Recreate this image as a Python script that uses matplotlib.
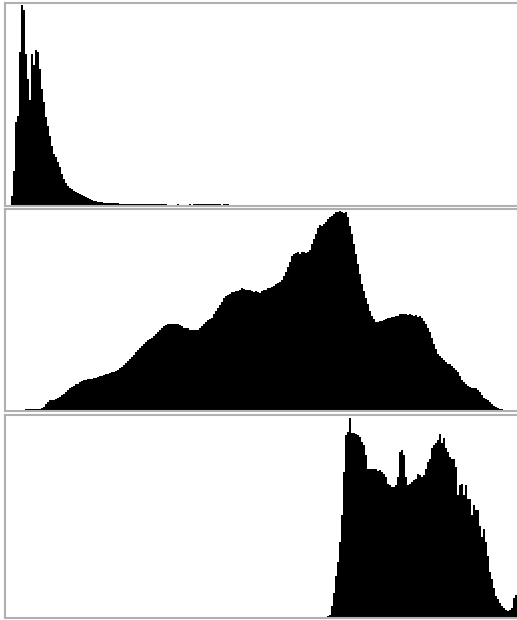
import numpy as np
import matplotlib
matplotlib.use("Agg")
import matplotlib.pyplot as plt

# 256-bin histograms, heights (arbitrary units)
n_bins = 256

# top panel: bins 3..111
hist1_start = 3
hist1 = [30, 105, 250, 270, 460, 600, 585, 455, 380, 315, 455, 420, 465, 460,
         410, 350, 310, 265, 240, 210, 180, 155, 145, 130, 115, 95, 80, 70, 60,
         55, 50, 45, 42, 38, 35, 32, 30, 28, 25, 22, 18, 15, 15, 12, 12, 12,
         10, 10, 10, 10, 10, 10, 10, 10,
         7, 7, 7, 7, 7, 7, 7, 7, 7, 7, 7, 7, 7, 7, 7, 7, 7, 7, 7, 7, 7, 7, 7, 7,
         0, 0, 0, 0, 0, 6, 0, 0, 0, 0, 0, 6, 0, 6, 6, 6, 6, 6, 6, 6, 6, 6, 6, 6,
         6, 6, 6, 0, 6, 6, 6]

# middle panel: bins 10..248
hist2_start = 10
hist2 = [7, 7, 7, 7, 7, 7, 7, 7, 8, 12, 20, 26, 32, 34, 34, 35, 38, 42, 48,
         52, 58, 64, 68, 72, 76, 80, 82, 86, 90, 94, 94, 95, 95, 96, 98, 100,
         103, 104, 106, 108, 110, 112, 114, 116, 118, 120, 124, 128, 132, 138,
         144, 150, 156, 162, 168, 176, 184, 190, 196, 200, 206, 212, 216, 220,
         226, 232, 238, 244, 250, 254, 258, 262, 260, 262, 262, 260, 262, 258,
         254, 250, 248, 248, 244, 242, 244, 244, 244, 248, 254, 260, 266, 272,
         276, 278, 290, 300, 308, 318, 328, 338, 344, 348, 352, 356, 358, 360,
         360, 362, 368, 366, 364, 362, 362, 360, 358, 360, 356, 354, 360, 362,
         364, 368, 370, 372, 376, 380, 384, 388, 394, 404, 416, 432, 448, 466,
         472, 474, 476, 472, 478, 476, 474, 478, 484, 500, 516, 532, 548, 558,
         556, 560, 566, 576, 582, 586, 592, 596, 598, 600, 598, 594, 596, 582,
         556, 530, 500, 472, 440, 410, 380, 360, 340, 320, 300, 285, 275, 268,
         268, 270, 270, 272, 276, 280, 280, 282, 282, 284, 286, 290, 290, 292,
         290, 288, 290, 288, 286, 288, 282, 284, 280, 270, 262, 250, 236, 220,
         200, 186, 172, 164, 160, 152, 146, 142, 140, 136, 130, 124, 116, 104,
         94, 88, 82, 76, 72, 70, 70, 68, 64, 56, 48, 40, 36, 32, 28, 22, 16, 12,
         8, 7, 7]

# bottom panel: bins 161..255
hist3_start = 161
hist3 = [6, 10, 36, 76, 126, 166, 226, 306, 436, 546, 556, 598, 551, 551, 548,
         546, 541, 526, 516, 486, 446, 446, 444, 446, 444, 440, 441, 436, 430,
         421, 401, 396, 391, 391, 396, 421, 496, 501, 486, 421, 396, 401, 406,
         411, 416, 431, 426, 421, 426, 446, 466, 476, 506, 516, 521, 531, 548,
         521, 536, 506, 496, 481, 476, 476, 451, 366, 396, 401, 366, 396, 356,
         356, 306, 336, 321, 321, 276, 241, 266, 226, 186, 136, 116, 91, 66, 56,
         46, 36, 31, 24, 22, 24, 31, 61, 70]


def full(start, vals):
    h = np.zeros(n_bins)
    h[start:start + len(vals)] = vals
    return h


W, H = 517, 620
fig = plt.figure(figsize=(W / 100, H / 100), dpi=100)

# panel boxes in pixels: (top, bottom)
boxes = [(3, 206), (209, 411), (415, 618)]
data = [full(hist1_start, hist1), full(hist2_start, hist2), full(hist3_start, hist3)]

for (top, bot), h in zip(boxes, data):
    ax = fig.add_axes([5 / W, 1 - bot / H, 512 / W, (bot - top) / H])
    ax.stairs(h, np.arange(n_bins + 1), fill=True, color="black", linewidth=0)
    ax.set_xlim(0, n_bins)
    ax.set_ylim(0, 606)
    ax.set_xticks([])
    ax.set_yticks([])
    for s in ax.spines.values():
        s.set_color("#b0b0b0")
        s.set_linewidth(1.5)
    # the boxes run off the right edge of the image
    ax.spines["right"].set_visible(False)

fig.savefig("out.png", dpi=100)
